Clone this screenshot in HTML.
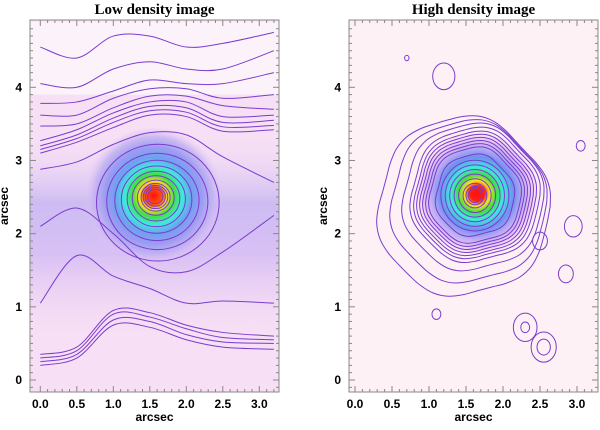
<!DOCTYPE html>
<html><head><meta charset="utf-8"><style>
body{margin:0;background:#fff;width:600px;height:425px;overflow:hidden}
svg{font-family:"Liberation Sans",sans-serif}
</style></head><body>
<svg id="c" width="600" height="425"></svg>
<script>
const xTicks=[0.0,0.5,1.0,1.5,2.0,2.5,3.0];
const yTicks=[0,1,2,3,4];
const lineXs=[0,0.5,1.0,1.5,2.0,2.5,3.2];
const leftLines=[
[3.10,3.25,3.45,3.62,3.60,3.40,3.42],
[3.15,3.30,3.52,3.68,3.66,3.46,3.48],
[3.20,3.35,3.58,3.74,3.72,3.52,3.55],
[3.27,3.42,3.65,3.80,3.80,3.60,3.62],
[3.47,3.50,3.72,3.88,3.88,3.75,3.70],
[3.62,3.62,3.85,3.98,3.98,3.85,3.90],
[3.78,3.80,3.95,4.10,4.05,4.05,4.20],
[4.05,4.00,4.25,4.35,4.25,4.25,4.50],
[4.55,4.40,4.70,4.70,4.55,4.60,4.75],
[2.88,2.98,3.22,3.38,3.35,3.05,2.70],
[2.10,2.35,2.00,1.55,1.48,1.75,2.25],
[1.05,1.70,1.42,1.25,1.05,1.08,1.05],
[0.35,0.45,0.95,0.92,0.75,0.65,0.60],
[0.30,0.40,0.90,0.86,0.70,0.58,0.55],
[0.25,0.35,0.82,0.80,0.62,0.52,0.50],
[0.20,0.30,0.75,0.72,0.55,0.45,0.42]];
const leftRings=[0.10,0.13,0.16,0.19,0.24,0.31,0.38,0.46,0.55,0.66,0.80];
const rightRings=[0.09,0.12,0.16,0.22,0.28,0.34,0.40,0.46,0.53,0.62,0.66,0.70,0.74,0.78,0.82,0.87,0.95,1.05,1.16];
const rightBlobs=[[1.1,0.9,0.06],[2.3,0.72,0.06],[2.3,0.72,0.16],[2.55,0.45,0.09],[2.55,0.45,0.17],[2.85,1.45,0.1],[2.5,1.9,0.1],[2.95,2.1,0.12],[0.7,4.4,0.03],[1.2,4.15,0.15],[3.05,3.2,0.06]];
const NS="http://www.w3.org/2000/svg";
const svg=document.getElementById('c');
function el(t,a,p){const e=document.createElementNS(NS,t);for(const k in a)e.setAttribute(k,a[k]);(p||svg).appendChild(e);return e;}
function smooth(pts){let d=`M${pts[0][0]},${pts[0][1]}`;for(let i=0;i<pts.length-1;i++){const p0=pts[Math.max(0,i-1)],p1=pts[i],p2=pts[i+1],p3=pts[Math.min(pts.length-1,i+2)];d+=` C${p1[0]+(p2[0]-p0[0])/6},${p1[1]+(p2[1]-p0[1])/6} ${p2[0]-(p3[0]-p1[0])/6},${p2[1]-(p3[1]-p1[1])/6} ${p2[0]},${p2[1]}`;}return d;}
const defs=el('defs',{});
function panel(id,box,x0,x3,y0,y4,title,bg,center,stops,extra){
 const sx=v=>x0+(x3-x0)*v/3, sy=v=>y0-(y0-y4)*v/4;
 const g=el('g',{});
 
 const cp=el('clipPath',{id:id+'clip'},defs);el('rect',{x:box[0],y:box[1],width:box[2]-box[0],height:box[3]-box[1]},cp);
 el('rect',{x:box[0],y:box[1],width:box[2]-box[0],height:box[3]-box[1],fill:bg},g);
 const inner=el('g',{'clip-path':`url(#${id}clip)`},g);
 if(extra)extra(inner,sx,sy);
 const pxr=(sx(1)-sx(0));
 const rg=el('radialGradient',{id:id+'rg',gradientUnits:'userSpaceOnUse',cx:sx(center[0]),cy:sy(center[1]),r:pxr*center[2]},defs);
 stops.forEach(s=>el('stop',{offset:s[0],'stop-color':s[1],'stop-opacity':s[2]??1},rg));
 el('circle',{cx:sx(center[0]),cy:sy(center[1]),r:pxr*center[2],fill:`url(#${id}rg)`,},inner);
 const cg=el('g',{fill:'none',stroke:'#7a3ccf','stroke-width':1},inner);
 
 el('rect',{x:box[0],y:box[1],width:box[2]-box[0],height:box[3]-box[1],fill:'none',stroke:'#888'},g);
 const tg=el('g',{stroke:'#888'},g);
 for(let v=0;v<=3.21;v+=0.1){const x=sx(v),big=Math.abs(v*2-Math.round(v*2))<0.01;el('line',{x1:x,x2:x,y1:box[3],y2:box[3]-(big?6:3)},tg);el('line',{x1:x,x2:x,y1:box[1],y2:box[1]+(big?6:3)},tg);}
 for(let v=-0.1;v<=4.81;v+=0.1){const y=sy(v),big=Math.abs(v-Math.round(v))<0.01;el('line',{y1:y,y2:y,x1:box[0],x2:box[0]+(big?6:3)},tg);el('line',{y1:y,y2:y,x1:box[2],x2:box[2]-(big?6:3)},tg);}
 xTicks.forEach(v=>{const t=el('text',{x:sx(v),y:box[3]+16,'text-anchor':'middle','font-size':12,'font-weight':'bold'},g);t.textContent=v.toFixed(1);});
 yTicks.forEach(v=>{const t=el('text',{x:box[0]-8,y:sy(v)+4,'text-anchor':'end','font-size':12,'font-weight':'bold'},g);t.textContent=v;});
 let t=el('text',{x:(box[0]+box[2])/2,y:box[3]+29,'text-anchor':'middle','font-size':12,'font-weight':'bold'},g);t.textContent='arcsec';
 t=el('text',{x:box[0]-22,y:(box[1]+box[3])/2,'text-anchor':'middle','font-size':12,'font-weight':'bold',transform:`rotate(-90 ${box[0]-22} ${(box[1]+box[3])/2})`},g);t.textContent='arcsec';
 t=el('text',{x:(box[0]+box[2])/2,y:14,'text-anchor':'middle','font-size':15,'font-weight':'bold','font-family':'Liberation Serif, serif'},g);t.textContent=title;
 return {cg,sx,sy,pxr};
}
// Left panel
const L=panel('left',[30,20,279,392],40.3,259.3,380,87.3,'Low density image','#f7e0f5',[1.55,2.52,0.95],
 [[0,'#ff1010'],[0.14,'#ff5a10'],[0.2,'#ffe020'],[0.3,'#40e040'],[0.42,'#40e8e0'],[0.55,'#6fa0f0'],[0.7,'#9c9cf2'],[0.85,'#c0b0f2',0.8],[1,'#e8c8f4',0]],
 (g,sx,sy)=>{const lg=el('linearGradient',{id:'band',x1:0,y1:0,x2:0,y2:1},defs);
  [[0,'#f7e0f5',0],[0.35,'#c8b8f2',0.9],[0.6,'#d0b8f4',0.8],[1,'#f0d0f4',0]].forEach(s=>el('stop',{offset:s[0],'stop-color':s[1],'stop-opacity':s[2]},lg));
  el('rect',{x:30,y:sy(3.4),width:250,height:sy(0.6)-sy(3.4),fill:'url(#band)'},g);
  el('rect',{x:30,y:sy(4.9),width:250,height:sy(3.9)-sy(4.9),fill:'#fcf2fa'},g);});
leftLines.forEach(a=>{const p=el('path',{d:smooth(a.map((v,i)=>[L.sx(lineXs[i]),L.sy(v)]))},L.cg);});
leftRings.forEach(r=>{const e=el('ellipse',{cx:L.sx(1.57+r*0.05),cy:L.sy(2.52-r*0.12),rx:L.pxr*r*1.05,ry:L.pxr*r},L.cg);});
// Right panel
const R=panel('right',[349,20,598,392],355,577,380,87.3,'High density image','#fdf1f6',[1.65,2.55,0.85],
 [[0,'#ff1010'],[0.12,'#ff2010'],[0.2,'#ffe020'],[0.3,'#40e040'],[0.42,'#40e8e0'],[0.58,'#7090f0'],[0.72,'#b8aaf2'],[0.86,'#e8c8f4'],[1,'#f6dcf4',0]]);
rightRings.forEach((r,k)=>{const pts=[];for(let i=0;i<=36;i++){const a=i/36*Math.PI*2;const w=1+(r>0.5?0.03*Math.sin(6*a)+0.02*Math.cos(3*a+1):0);pts.push([R.sx(1.62-(r>0.9?(r-0.9)*0.6:0)+Math.cos(a)*r*w),R.sy(2.52-(r>0.9?(r-0.9)*0.6:0)+Math.sin(a)*r*1.05*w)]);}
 const p=el('path',{d:smooth(pts)+'Z'},R.cg);});
rightBlobs.forEach(b=>{const e=el('ellipse',{cx:R.sx(b[0]),cy:R.sy(b[1]),rx:R.pxr*b[2],ry:R.pxr*b[2]*1.2},R.cg);});
</script>
</body></html>
